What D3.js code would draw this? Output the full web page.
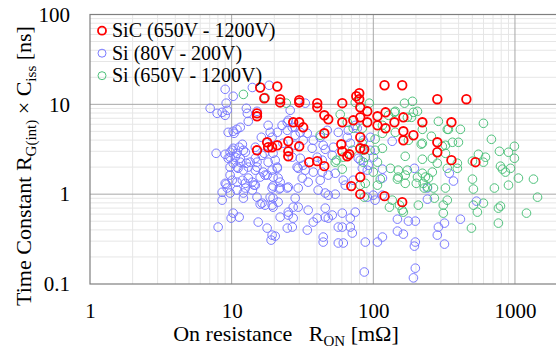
<!DOCTYPE html>
<html>
<head>
<meta charset="utf-8">
<script src="https://cdn.jsdelivr.net/npm/d3@7"></script>
<style>
  body { margin: 0; background: #fff; }
  svg { display: block; }
  svg text { font-family: "Liberation Serif", "Tinos", "Times New Roman", "DejaVu Serif", serif; }
</style>
</head>
<body>
<svg id="chart" width="556" height="353"></svg>
<script>
// ---- data: [R_ON (mOhm), R_G(int) x C_iss (ns)] ----
const sicPoints = [
  [15.1,7.94],[15.1,7.36],[15.1,3.08],[15.9,15.4],[17.0,11.7],[17.8,3.78],[18.1,3.33],[19.3,3.33],
  [21.0,3.50],[21.0,15.8],[22.0,11.4],[22.0,10.5],[25.1,3.88],[25.1,3.00],[25.1,2.64],[27.2,6.31],
  [30.0,6.31],[32.0,5.55],[30.0,11.1],[30.0,10.5],[30.0,3.41],[35.3,2.27],[40.2,2.33],[45.1,2.05],
  [40.2,10.3],[40.2,9.26],[45.1,7.55],[48.1,6.81],[45.1,4.76],[60.4,10.3],[60.4,6.31],[59.4,3.59],
  [60.4,3.00],[67.7,2.78],[65.5,2.64],[72.2,6.64],[75.8,12.3],[79.6,13.3],[79.6,11.4],[80.9,9.26],
  [80.9,7.17],[90.7,8.36],[90.7,6.31],[80.9,4.30],[80.9,3.24],[86.4,3.16],[107,7.36],[107,5.84],
  [120,16.3],[160,16.3],[122,8.15],[122,5.41],[141,6.31],[163,7.17],[163,5.01],[163,3.98],
  [192,4.53],[222,6.31],[283,11.4],[454,11.4],[283,3.78],[283,2.93],[356,6.31],[356,2.39],
  [526,2.27],[69.9,1.23],[80.9,1.55],[80.9,1.0],[120,0.95],[160,0.815]
];

const siLowPoints = [
  [9.0,14.7],[10.25,12.3],[14.0,15.4],[18.4,16.3],[7.05,9.03],[7.9,7.94],[8.57,8.15],[9.3,8.58],
  [9.0,7.55],[9.15,10.3],[12.7,9.03],[12.9,7.94],[13.1,6.47],[15.1,8.36],[9.45,4.88],[10.25,5.01],
  [10.9,5.27],[10.4,4.76],[11.5,5.55],[18.1,5.84],[21.0,4.88],[16.2,4.30],[19.3,4.30],[18.7,4.88],
  [22.7,5.84],[24.7,5.14],[25.1,6.64],[28.1,5.55],[30.5,4.88],[33.1,10.3],[25.9,8.58],[24.7,6.31],
  [26.8,5.55],[34.2,4.76],[37.7,3.98],[47.3,5.14],[56.6,4.88],[66.6,5.14],[74.6,5.84],[28.1,4.53],
  [32.0,3.98],[28.1,3.50],[45.8,3.16],[52.2,3.33],[68.8,3.69],[51.3,2.71],[26.8,2.58],[30.5,2.51],
  [78.3,2.51],[95.2,3.08],[100,2.58],[32.0,2.10],[29.0,2.00],
  [11.9,3.59],[11.3,3.33],[10.25,3.24],[9.75,2.93],[10.9,2.85],[7.77,2.85],[9.0,2.78],[9.75,2.58],
  [12.5,2.93],[14.7,3.33],[17.0,2.85],[12.7,2.21],[10.25,2.21],[11.5,2.27],[15.1,2.27],[18.1,2.27],
  [10.1,3.08],[12.1,3.08],[9.45,2.51],[10.6,2.58],[11.5,2.51],[13.5,2.27],[14.7,2.51],[16.4,2.71],
  [19.6,2.85],[20.3,2.39],[15.1,2.00],[21.0,2.00],[10.9,2.00],
  [9.75,2.00],[11.1,1.94],[12.1,1.85],[13.1,2.0],[14.7,1.85],[16.7,1.76],[19.3,1.85],[21.0,1.94],
  [9.0,1.32],[10.1,1.43],[10.9,1.36],[11.9,1.43],[12.5,1.32],[13.1,1.51],[14.0,1.36],[14.7,1.26],
  [15.9,1.55],[17.8,1.63],[21.3,1.51],[22.0,1.36],[19.6,1.55],[8.57,1.05],[9.3,1.17],[9.75,1.03],
  [10.9,1.11],[12.5,1.17],[14.0,1.11],[22.0,1.17],[19.3,1.17],[24.7,1.17],[8.57,0.858],[12.1,0.903],
  [15.1,0.926],[18.7,0.926],[19.6,0.903],[15.9,0.774],[17.2,0.755],[19.3,0.755],[21.3,0.815],
  [10.25,0.615],[9.92,0.541],[11.3,0.555],[8.03,0.430],[15.4,0.489],[17.8,0.419],[19.3,0.350],
  [20.3,0.341],[19.0,0.308],[22.0,0.555],[24.7,0.419],[25.1,0.631],[25.1,0.585],
  [9.15,1.29],[9.75,1.63],[12.1,1.03],[16.4,0.794],[19.6,0.717],[14.4,1.26],[17.2,1.63],[19.6,1.23],
  [21.7,1.14],
  [29.5,1.94],[33.1,1.85],[37.7,1.76],[43.6,1.76],[48.1,1.63],[53.9,1.71],[61.4,1.43],[72.2,1.43],
  [90.7,1.85],[25.1,1.20],[29.5,1.17],[31.5,1.51],[34.7,1.36],[40.8,1.11],[42.2,1.43],[45.8,1.03],
  [48.1,0.975],[53.9,1.0],[63.4,1.26],[90.7,0.926],[103,0.858],[116,0.975],[100,0.975],[28.1,0.903],
  [27.2,0.717],[29.5,0.717],[27.2,0.541],[34.7,0.664],[40.2,0.541],[37.7,0.489],[45.8,0.699],
  [45.8,0.555],[48.1,0.541],[51.3,0.585],[60.4,0.615],[68.8,0.541],[74.6,0.631],[26.8,0.430],
  [34.2,0.398],[56.6,0.430],[60.4,0.430],[68.8,0.430],[71.1,0.369],[44.3,0.333],[44.3,0.293],
  [56.6,0.286],[61.4,0.286],[87.8,0.293],[107,0.293],[116,0.333],[86.4,0.136],
  [198,0.150],[192,0.117],[198,0.293],[195,0.264],[318,0.278],[283,0.350],[288,0.430],[318,0.476],
  [412,0.527],[535,0.836],[177,0.501],[198,0.501],[148,0.527],[163,0.359],[148,0.388],[241,0.880],
  [136,3.88],[195,1.94],[344,1.71],[368,1.40],[116,1.90],[116,1.51],[241,1.17],
  [65.5,4.30],[77,5.41],[85,3.98],[95.2,4.30],[80.9,2.39],[83.6,1.94],[92,2.10],[37,3.24],
  [44.3,3.50],[40.2,2.58],[43.6,2.39],[23,3.69],[42.2,4.30]
];

const siHighPoints = [
  [12.1,12.9],[17.2,11.9],[24.3,10.3],[42.2,4.53],[53.9,2.27],[58.4,7.74],[61.4,2.58],[71.1,3.08],
  [72.2,5.41],[74.6,10.5],[83.6,5.41],[85.0,3.08],[85.0,2.27],[93.7,10.3],[103,4.1],[103,3.08],
  [107,2.27],[116,4.76],[128,7.55],[143,8.36],[166,10.3],[189,10.8],[192,8.15],[205,8.36],
  [141,8.15],[174,7.17],[186,7.17],[116,5.84],[143,4.88],[222,5.27],[288,6.47],[333,5.27],
  [339,5.27],[412,5.27],[257,4.41],[177,3.98],[222,3.69],[218,3.6],[307,3.41],[323,3.50],
  [362,3.78],[399,3.78],[168,2.64],[222,2.45],[261,2.51],[323,2.85],[392,2.21],[392,1.94],
  [501,2.33],[552,2.78],[116,3.24],[132,1.94],[174,1.85],[205,1.55],[222,1.71],[233,1.55],
  [245,1.51],[266,1.17],[323,1.17],[501,1.47],[150,1.55],[150,1.85],[168,1.63],
  [599,6.15],[682,4.08],[777,3.00],[900,2.93],[991,3.41],[991,2.51],[619,2.58],[599,2.27],
  [790,2.05],[816,1.90],[857,1.76],[930,1.94],[1058,1.51],[1351,1.47],[900,1.26],[716,1.17],
  [509,1.14],[1443,0.926],[599,0.794],[790,0.736],[764,0.699],[1206,0.615],[543,0.631],[764,0.476],
  [80.9,1.26],[87.8,1.32],[107,1.26],[112,1.47],[148,1.47],[168,1.32],[201,1.32],[225,1.32],
  [241,1.20],[229,1.17],[261,1.76],[130,0.717],[160,0.664],[163,0.631],[153,0.755],[136,0.858],
  [208,0.755],[270,0.903],[312,0.755],[312,0.615],[333,0.858],[509,0.755],[493,0.419],[86.4,0.926],
  [100,1.76],[60.4,1.90],[65.5,6.31],[83.6,3.69],[87.8,2.58],[55,2.39],[283,2.21],[333,1.94]
];

const xTickValues = [1, 10, 100, 1000];
const yTickValues = [0.1, 1, 10, 100];

const seriesNames = ["SiC (650V - 1200V)", "Si (80V - 200V)", "Si (650V - 1200V)"];
const seriesColors = ["#ff0000", "#7a7aff", "#4fc27c"];

const serif = '"Liberation Serif", Tinos, "Times New Roman", "DejaVu Serif", serif';

// ---- chart ----
const svg = d3.select("svg#chart");

const plotLeft = 90, plotRight = 557.6, plotTop = 14.5, plotBottom = 284;

const x = d3.scaleLog().domain([1, 2000]).range([plotLeft, plotRight]);
const y = d3.scaleLog().domain([0.1, 100]).range([plotBottom, plotTop]);

const isMajor = (v) => Math.abs(Math.log10(v) - Math.round(Math.log10(v))) < 1e-9;

const grid = svg.append("g");

// minor grid
grid.selectAll("line.xminor")
  .data(x.ticks().filter((d) => !isMajor(d)))
  .join("line")
  .attr("class", "xminor")
  .attr("x1", (d) => x(d)).attr("x2", (d) => x(d))
  .attr("y1", plotTop).attr("y2", plotBottom)
  .attr("stroke", "#e6e6e6");

grid.selectAll("line.yminor")
  .data(y.ticks().filter((d) => !isMajor(d)))
  .join("line")
  .attr("class", "yminor")
  .attr("x1", plotLeft).attr("x2", plotRight)
  .attr("y1", (d) => y(d)).attr("y2", (d) => y(d))
  .attr("stroke", "#e6e6e6");

// major grid
grid.selectAll("line.xmajor")
  .data(xTickValues.slice(1))
  .join("line")
  .attr("class", "xmajor")
  .attr("x1", (d) => x(d)).attr("x2", (d) => x(d))
  .attr("y1", plotTop).attr("y2", plotBottom)
  .attr("stroke", "#a8a8a8");

grid.selectAll("line.ymajor")
  .data(yTickValues.slice(1, 3))
  .join("line")
  .attr("class", "ymajor")
  .attr("x1", plotLeft).attr("x2", plotRight)
  .attr("y1", (d) => y(d)).attr("y2", (d) => y(d))
  .attr("stroke", "#a8a8a8");

// frame
svg.append("rect")
  .attr("x", plotLeft).attr("y", plotTop)
  .attr("width", plotRight - plotLeft).attr("height", plotBottom - plotTop)
  .attr("fill", "none")
  .attr("stroke", "#7f7f7f")
  .attr("stroke-width", 1.2);

// axes
const xAxis = svg.append("g")
  .attr("transform", `translate(0,${plotBottom})`)
  .call(d3.axisBottom(x).tickValues(xTickValues).tickFormat(d3.format("~g")).tickSize(0).tickPadding(19));
const yAxis = svg.append("g")
  .attr("transform", `translate(${plotLeft},0)`)
  .call(d3.axisLeft(y).tickValues(yTickValues).tickFormat(d3.format("~g")).tickSize(0).tickPadding(20));

[xAxis, yAxis].forEach((g) => {
  g.attr("font-family", serif).attr("font-size", 21);
  g.select(".domain").remove();
  g.selectAll("text").attr("fill", "#000");
});

// points
const series = [siLowPoints, siHighPoints, sicPoints];
const seriesIdx = [1, 2, 0];
const plot = svg.append("g");

series.forEach((pts, i) => {
  const k = seriesIdx[i];
  plot.append("g")
    .selectAll("circle")
    .data(pts)
    .join("circle")
    .attr("cx", (d) => x(d[0]))
    .attr("cy", (d) => y(d[1]))
    .attr("r", 4.3)
    .attr("fill", "none")
    .attr("stroke", seriesColors[k])
    .attr("stroke-width", k === 0 ? 1.8 : 1);
});

// legend
const legend = svg.append("g").attr("font-family", serif).attr("font-size", 20);
seriesNames.forEach((name, i) => {
  const cy = 30.7 + i * 22.5;
  legend.append("circle")
    .attr("cx", 102).attr("cy", cy).attr("r", 4)
    .attr("fill", "none")
    .attr("stroke", seriesColors[i])
    .attr("stroke-width", i === 0 ? 1.8 : 1);
  legend.append("text")
    .attr("x", 112).attr("y", cy + 6.5)
    .text(name);
});

// axis titles
const xTitle = svg.append("text")
  .attr("x", 286).attr("y", 341)
  .attr("text-anchor", "middle")
  .attr("font-family", serif)
  .attr("font-size", 22)
  .style("white-space", "pre");
xTitle.append("tspan").text("On resistance   R");
xTitle.append("tspan").attr("dy", 5).attr("font-size", 15).text("ON");
xTitle.append("tspan").attr("dy", -5).text(" [mΩ]");

const yTitle = svg.append("text")
  .attr("transform", "translate(31,166) rotate(-90)")
  .attr("text-anchor", "middle")
  .attr("font-family", serif)
  .attr("font-size", 22);
yTitle.append("tspan").text("Time Constant R");
yTitle.append("tspan").attr("dy", 5).attr("font-size", 15).text("G(int)");
yTitle.append("tspan").attr("dy", -5).text(" × C");
yTitle.append("tspan").attr("dy", 5).attr("font-size", 15).text("iss");
yTitle.append("tspan").attr("dy", -5).text(" [ns]");
</script>
</body>
</html>
